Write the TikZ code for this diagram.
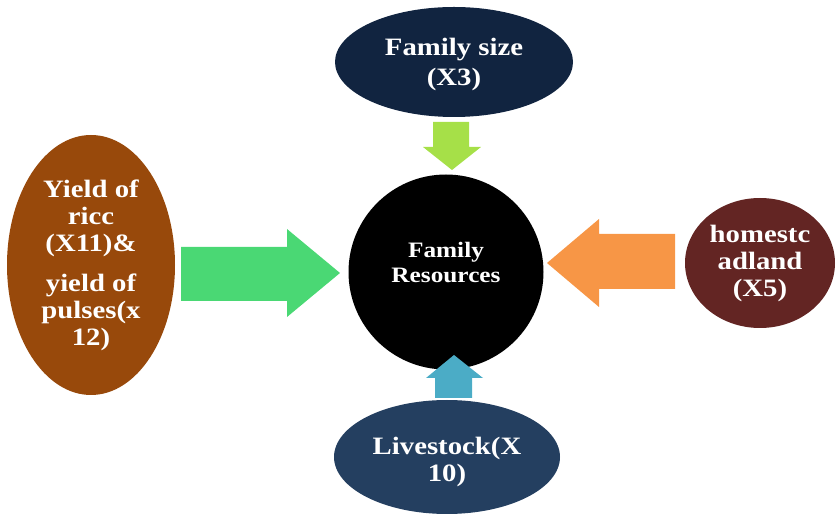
\documentclass[tikz,border=0pt]{standalone}
\usepackage{fontspec}
\setmainfont{Liberation Serif}[FakeStretch=1.15]
\usetikzlibrary{shapes.geometric}
\definecolor{navytop}{RGB}{17,36,64}
\definecolor{brownleft}{RGB}{152,73,11}
\definecolor{redright}{RGB}{99,37,35}
\definecolor{slatebottom}{RGB}{36,63,96}
\definecolor{limearrow}{RGB}{166,224,72}
\definecolor{greenarrow}{RGB}{74,216,116}
\definecolor{orangearrow}{RGB}{247,150,70}
\definecolor{cyanarrow}{RGB}{75,172,198}
\begin{document}
\begin{tikzpicture}[x=1pt,y=-1pt,
  blob/.style={ellipse, inner sep=0pt, text=white, align=center,
    font=\bfseries\fontsize{25}{27}\selectfont},
  hub/.style={circle, inner sep=0pt, fill=black, minimum size=195pt},
  hubtext/.style={text=white, align=center, inner sep=0pt,
    font=\bfseries\fontsize{22}{25}\selectfont},
  blockarrow/.style={draw=none}]
\useasboundingbox (0,0) rectangle (839,518);

\node[hub] (center) at (446,272) {};
\node[hubtext] (centertext) at (446,263) {Family\\Resources};

\node[blob, fill=navytop, minimum width=238pt, minimum height=110pt] (top) at (454,62) {};
\node[blob] (toptext) at (454,64) {Family size\\[3pt](X3)};
\node[blob, fill=brownleft, minimum width=168pt, minimum height=260pt] (left) at (91,265)
  {Yield of\\ricc\\(X11)\&\\[13pt]yield of\\pulses(x\\12)};
\node[blob, fill=redright, minimum width=150pt, minimum height=130pt] (right) at (760,263)
  {homestc\\adland\\(X5)};
\node[blob, fill=slatebottom, minimum width=226pt, minimum height=114pt] (bottom) at (447,457) {};
\node[blob] (bottomtext) at (447,462) {Livestock(X\\10)};

% block arrows
\fill[blockarrow, limearrow] (433,122) -- (469,122) -- (469,147) -- (481,147) -- (452,170)
  -- (423,147) -- (433,147) -- cycle;
\fill[blockarrow, greenarrow] (181,247) -- (287,247) -- (287,229) -- (340,273) -- (287,317)
  -- (287,301) -- (181,301) -- cycle;
\fill[blockarrow, orangearrow] (675,234) -- (599,234) -- (599,219) -- (547,263) -- (599,307)
  -- (599,289) -- (675,289) -- cycle;
\fill[blockarrow, cyanarrow] (435,398) -- (472,398) -- (472,378) -- (483,378) -- (454,355)
  -- (426,378) -- (435,378) -- cycle;
\end{tikzpicture}
\end{document}
